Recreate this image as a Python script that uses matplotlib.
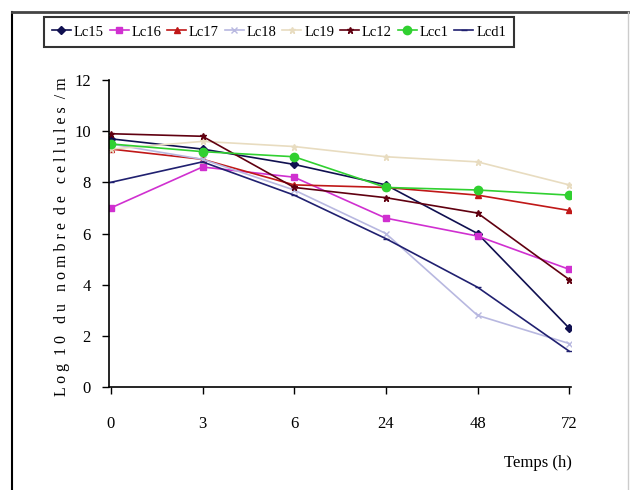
import matplotlib
matplotlib.use("Agg")
import matplotlib.pyplot as plt
from matplotlib.lines import Line2D

times = ["0", "3", "6", "24", "48", "72"]
yticks = [0, 2, 4, 6, 8, 10, 12]

lc15 = [9.7, 9.3, 8.7, 7.9, 6.0, 2.3]
lc16 = [7.0, 8.6, 8.2, 6.6, 5.9, 4.6]
lc17 = [9.3, 8.9, 7.9, 7.8, 7.5, 6.9]
lc18 = [9.5, 8.9, 7.7, 6.0, 2.8, 1.7]
lc19 = [9.3, 9.6, 9.4, 9.0, 8.8, 7.9]
lc12 = [9.9, 9.8, 7.8, 7.4, 6.8, 4.2]
lcc1 = [9.5, 9.2, 9.0, 7.8, 7.7, 7.5]
lcd1 = [8.0, 8.8, 7.5, 5.8, 3.9, 1.4]

labels = ["Lc15", "Lc16", "Lc17", "Lc18", "Lc19", "Lc12", "Lcc1", "Lcd1"]
series = [lc15, lc16, lc17, lc18, lc19, lc12, lcc1, lcd1]
colors = ["#101050", "#D030D0", "#C01818", "#B8B8E0", "#E8DCC0", "#600010", "#30D030", "#202070"]
markers = ["D", "s", "^", "x", "*", "*", "o", "_"]
msizes = [4, 5, 5, 5, 5, 5, 6, 5]

plt.rcParams['font.family'] = ['Liberation Serif', 'DejaVu Serif']

fig = plt.figure(figsize=(6.35, 4.9), dpi=100)
ax = fig.add_axes([109/635, 1-387/490, (571-109)/635, (387-80)/490])

x = list(range(len(times)))
handles = []
for lab, vals, c, m, ms in zip(labels, series, colors, markers, msizes):
    h, = ax.plot(x, vals, color=c, marker=m, markersize=ms, linewidth=1.2,
                 markeredgecolor=c, label=lab)
    handles.append(h)

ax.set_ylim(0, 12)
ax.set_xticks(x)
ax.set_xticklabels(times, fontsize=12)
ax.set_yticks(yticks)
ax.set_yticklabels([str(v) for v in yticks], fontsize=12)
ax.spines['top'].set_visible(False)
ax.spines['right'].set_visible(False)
ax.spines['left'].set_linewidth(1.2)
ax.spines['bottom'].set_linewidth(1.2)
ax.tick_params(axis='y', direction='out', length=5, width=1, pad=8)
ax.tick_params(axis='x', direction='out', length=5, width=1, pad=16)
ax.set_xlim(-0.02, 5.02)

fig.text(62/635, 1-237/490, "L o g  1 0   d u   n o m b r e  d e   c e l l u l e s  / m",
         rotation=90, ha='center', va='center', fontsize=11.5)
fig.text(538/635, 1-463/490, "Temps (h)", ha='center', va='center', fontsize=12)

leg = fig.legend(handles=handles, labels=labels, ncol=8, loc='center',
                 bbox_to_anchor=(279/635, 1-32/490), frameon=True, fontsize=10.5,
                 handlelength=1.3, handletextpad=0.2, columnspacing=0.4,
                 borderpad=0.55, borderaxespad=0, fancybox=False)
leg.get_frame().set_edgecolor('black')
leg.get_frame().set_linewidth(1.5)

# outer frame
fig.add_artist(Line2D([12/635, 12/635], [0, 1-12/490], color='black', linewidth=1.5, transform=fig.transFigure))
fig.add_artist(Line2D([12/635, 628/635], [1-12/490, 1-12/490], color='#444444', linewidth=2, transform=fig.transFigure))
fig.add_artist(Line2D([628/635, 628/635], [0, 1-12/490], color='#cccccc', linewidth=1, transform=fig.transFigure))

fig.savefig("out.png", dpi=100)
